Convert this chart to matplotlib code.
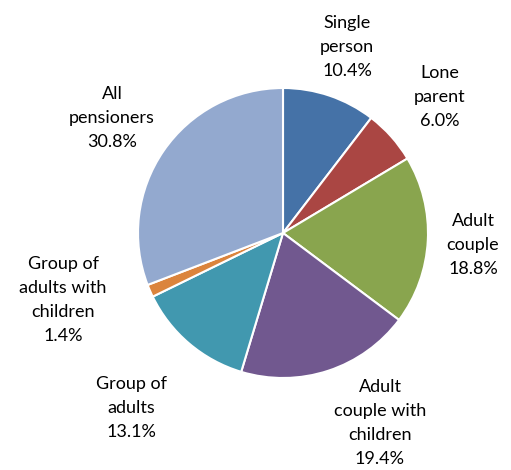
import matplotlib
matplotlib.use("Agg")
import matplotlib.pyplot as plt

categories = ["Single\nperson", "Lone\nparent", "Adult\ncouple", "Adult\ncouple with\nchildren",
              "Group of\nadults", "Group of\nadults with\nchildren", "All\npensioners"]
values = [10.4, 6.0, 18.8, 19.4, 13.1, 1.4, 30.8]
colors = ["#4572A7", "#AA4643", "#89A54E", "#71588F", "#4198AF", "#DB843D", "#93A9CF"]

W, H = 511, 470
fig = plt.figure(figsize=(W / 100, H / 100), dpi=100)
cx, cy, r = 283, 233, 145
ax = fig.add_axes([(cx - r) / W, (H - cy - r) / H, 2 * r / W, 2 * r / H])
ax.pie(values, colors=colors, startangle=90, counterclock=False,
       wedgeprops=dict(edgecolor="white", linewidth=1.5))
ax.set_aspect("equal")
ax.set_xlim(-1.0, 1.0)
ax.set_ylim(-1.0, 1.0)

label_pos = [(347, 47), (440, 97), (473, 245), (380, 423), (131, 408), (63, 300), (112, 118)]
for cat, v, (x, y) in zip(categories, values, label_pos):
    fig.text(x / W, 1 - y / H, f"{cat}\n{v:.1f}%", ha="center", va="center",
             fontsize=13, family=["Lato", "DejaVu Sans"], linespacing=1.6)

fig.savefig("out.png", dpi=100)
